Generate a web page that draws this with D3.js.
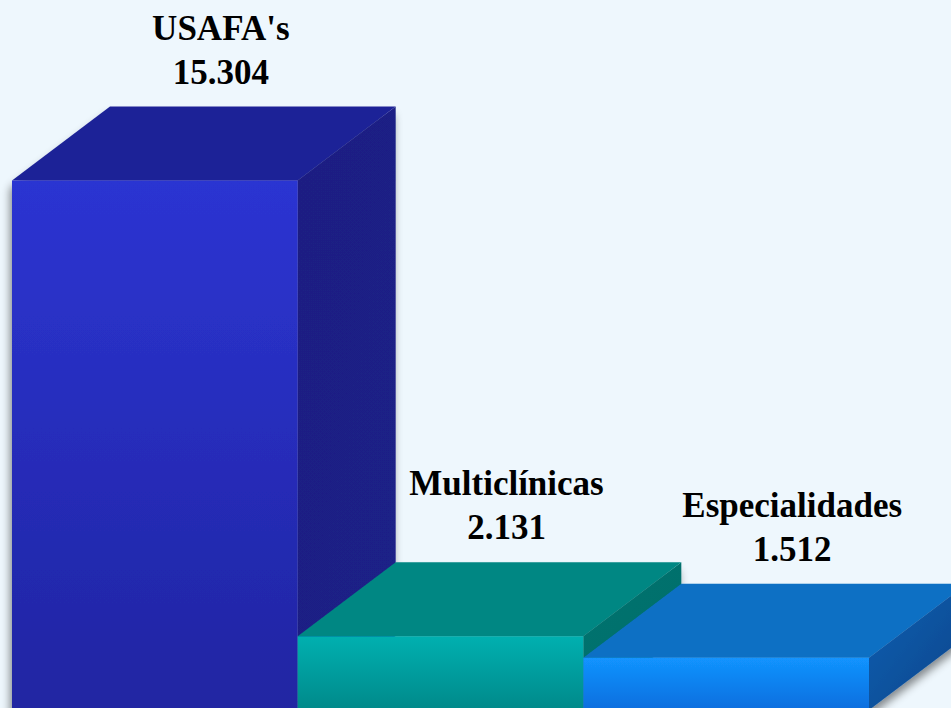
<!DOCTYPE html>
<html>
<head>
<meta charset="utf-8">
<script src="https://cdn.jsdelivr.net/npm/d3@7"></script>
<style>
    html, body { margin: 0; padding: 0; background: #eef7fd; }
    svg { display: block; }
</style>
</head>
<body>
<div id="wrap"></div>
<script>
const categories = ["USAFA's", "Multiclínicas", "Especialidades"];
const values = [15304, 2131, 1512];
const valueLabels = ["15.304", "2.131", "1.512"];

const width = 951;
const height = 708;
const baseline = 710;
const depth = { x: 98, y: -74 };

// colours per bar: front top/bottom, top face, side start/end
const palette = [
    { front: ["#2c34d2", "#2025a2"], top: "#1f2497", side: ["#1c1f82", "#1d2088"] },
    { front: ["#00b0b0", "#00898a"], top: "#008783", side: ["#00736f", "#006e6a"] },
    { front: ["#1294ff", "#0d6ede"], top: "#0b70c4", side: ["#0d5fb2", "#07458a"] }
];

const x = d3.scaleBand()
    .domain(categories)
    .range([12, 869])
    .padding(0);

const y = d3.scaleLinear()
    .domain([0, values[0]])
    .range([baseline, 180.5]);

const svg = d3.select("#wrap").append("svg")
    .attr("width", width)
    .attr("height", height);

svg.append("rect")
    .attr("width", width).attr("height", height)
    .attr("fill", "#eef7fd");

const defs = svg.append("defs");

defs.append("filter")
    .attr("id", "shadow")
    .attr("x", "-20%").attr("y", "-20%")
    .attr("width", "140%").attr("height", "140%")
    .append("feDropShadow")
    .attr("dx", -2).attr("dy", 8)
    .attr("stdDeviation", 4)
    .attr("flood-color", "#000")
    .attr("flood-opacity", 0.45);

palette.forEach((p, i) => {
    const gf = defs.append("linearGradient")
        .attr("id", "front" + i)
        .attr("x1", 0).attr("y1", 0).attr("x2", 0).attr("y2", 1);
    gf.append("stop").attr("offset", "0%").attr("stop-color", p.front[0]);
    gf.append("stop").attr("offset", "100%").attr("stop-color", p.front[1]);

    const gs = defs.append("linearGradient")
        .attr("id", "side" + i)
        .attr("x1", 0).attr("y1", 0).attr("x2", 1).attr("y2", 1);
    gs.append("stop").attr("offset", "0%").attr("stop-color", p.side[0]);
    gs.append("stop").attr("offset", "100%").attr("stop-color", p.side[1]);
});

const data = categories.map((c, i) => ({ name: c, value: values[i], label: valueLabels[i], i }));

const bars = svg.append("g")
    .attr("filter", "url(#shadow)")
    .selectAll("g.bar")
    .data(data)
    .join("g")
    .attr("class", "bar");

const pts = arr => arr.map(p => p.join(",")).join(" ");

// side face
bars.append("polygon")
    .attr("points", d => {
        const x1 = x(d.name) + x.bandwidth();
        const yt = y(d.value);
        return pts([[x1, yt], [x1 + depth.x, yt + depth.y],
            [x1 + depth.x, baseline + depth.y], [x1, baseline]]);
    })
    .attr("fill", d => `url(#side${d.i})`);

// top face
bars.append("polygon")
    .attr("points", d => {
        const x0 = x(d.name), x1 = x0 + x.bandwidth();
        const yt = y(d.value);
        return pts([[x0, yt], [x1, yt], [x1 + depth.x, yt + depth.y], [x0 + depth.x, yt + depth.y]]);
    })
    .attr("fill", d => palette[d.i].top);

// front face
bars.append("rect")
    .attr("x", d => x(d.name))
    .attr("y", d => y(d.value))
    .attr("width", x.bandwidth())
    .attr("height", d => baseline - y(d.value))
    .attr("fill", d => `url(#front${d.i})`);

// labels
const labels = svg.append("g")
    .selectAll("text")
    .data(data)
    .join("text")
    .attr("x", d => x(d.name) + x.bandwidth() / 2 + 66)
    .attr("y", d => y(d.value) + depth.y - 67)
    .attr("text-anchor", "middle")
    .attr("font-family", "'Liberation Serif', 'Times New Roman', serif")
    .attr("font-weight", "bold")
    .attr("font-size", 35)
    .attr("fill", "#000");

labels.append("tspan")
    .attr("x", d => x(d.name) + x.bandwidth() / 2 + 66)
    .text(d => d.name);

labels.append("tspan")
    .attr("x", d => x(d.name) + x.bandwidth() / 2 + 66)
    .attr("dy", 44)
    .text(d => d.label);
</script>
</body>
</html>
